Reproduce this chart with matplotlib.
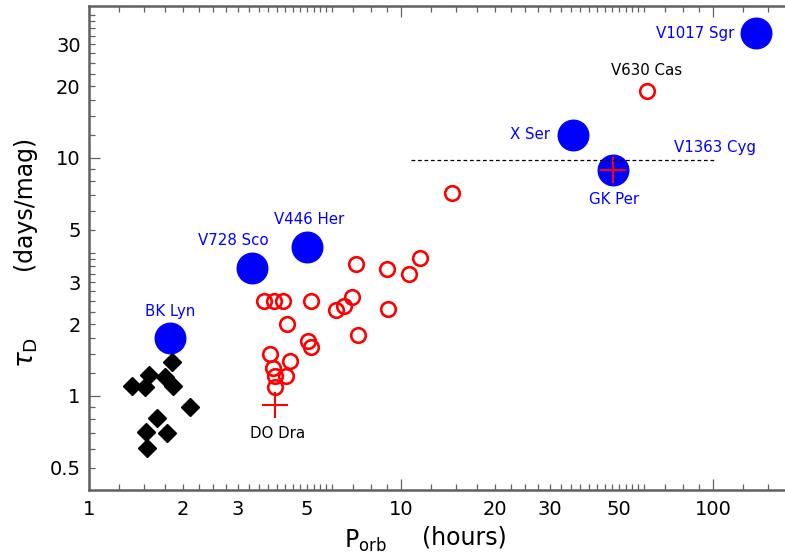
import numpy as np
import matplotlib
matplotlib.use("Agg")
import matplotlib.pyplot as plt
from matplotlib.ticker import FixedLocator, FuncFormatter, NullFormatter

# ---------------- data ----------------
# black diamonds (short-period systems)
diam_p = [1.84, 1.56, 1.37, 1.51, 1.75, 1.86, 2.10, 1.65, 1.52, 1.78, 1.53]
diam_t = [1.39, 1.225, 1.10, 1.094, 1.205, 1.10, 0.902, 0.806, 0.708, 0.701, 0.603]

# red open circles
circ_p = [7.17, 9.0, 11.5, 10.6, 3.65, 3.93, 4.18, 5.15, 6.19, 6.58, 6.98, 9.10,
          4.32, 5.05, 5.15, 7.30, 3.80, 4.41, 3.90, 4.27, 3.95, 3.95, 14.6, 61.3]
circ_t = [3.59, 3.41, 3.81, 3.25, 2.51, 2.51, 2.51, 2.51, 2.30, 2.39, 2.61, 2.31,
          2.01, 1.71, 1.60, 1.80, 1.50, 1.40, 1.31, 1.21, 1.21, 1.09, 7.11, 19.2]

# blue filled circles (named novae)
blue_names = ["V1017 Sgr", "X Ser", "GK Per", "V446 Her", "V728 Sco", "BK Lyn"]
blue_p = [137.0, 35.5, 47.7, 4.99, 3.34, 1.82]
blue_t = [33.5, 12.5, 8.9, 4.24, 3.44, 1.76]

# red crosses
cross_names = ["DO Dra", "GK Per"]
cross_p = [3.95, 47.7]
cross_t = [0.917, 8.9]

# dashed range (V1363 Cyg)
cyg_p = [10.8, 101.0]
cyg_t = [9.8, 9.8]

# labels: text, x, y, colour, ha
label_text = ["V1017 Sgr", "V630 Cas", "X Ser", "V1363 Cyg", "GK Per",
              "V446 Her", "V728 Sco", "BK Lyn", "DO Dra"]
label_x = [117.0, 61.3, 25.9, 101.5, 48.3, 5.07, 2.90, 1.82, 4.02]
label_y = [33.5, 23.4, 12.5, 11.1, 6.66, 5.49, 4.48, 2.26, 0.697]
label_col = ["blue", "black", "blue", "blue", "blue", "blue", "blue", "blue", "black"]
label_ha = ["right", "center", "center", "center", "center", "center", "center", "center", "center"]

x_labels = [1, 2, 3, 5, 10, 20, 30, 50, 100]
y_labels = [0.5, 1, 2, 3, 5, 10, 20, 30]

# ---------------- figure ----------------
fig = plt.figure(figsize=(7.85, 5.59), dpi=100)
ax = fig.add_axes([89/785, 69/559, 696/785, 484/559])
ax.set_xscale("log")
ax.set_yscale("log")
ax.set_xlim(1, 170.1)
ax.set_ylim(0.4027, 43.5)

ax.plot(diam_p, diam_t, linestyle="none", marker="D", ms=9.5,
        color="black", zorder=3)
ax.plot(circ_p, circ_t, linestyle="none", marker="o", ms=10.5,
        mfc="none", mec="red", mew=1.9, zorder=3)
ax.plot(blue_p, blue_t, linestyle="none", marker="o", ms=22,
        color="blue", mec="blue", zorder=4)
ax.plot(cross_p, cross_t, linestyle="none", marker="+", ms=19,
        mew=1.5, color="red", zorder=5)
ax.plot(cyg_p, cyg_t, linestyle=(0, (3, 2.2)), color="black", lw=0.9, zorder=6)

for t, x, y, c, ha in zip(label_text, label_x, label_y, label_col, label_ha):
    ax.text(x, y, t, color=c, ha=ha, va="center", fontsize=10.8, zorder=7)

# ---------------- ticks ----------------
frac = [1.25, 1.5, 1.75, 2, 2.25, 2.5, 2.75, 3, 3.25, 3.5, 3.75, 4,
        4.25, 4.5, 4.75, 5, 5.25, 5.5, 5.75, 6, 7, 8, 9]
xminor = [m * d for d in [1, 10, 100] for m in frac]
yfrac = [1.25, 1.5, 1.75, 2, 2.25, 2.5, 2.75, 3, 3.25, 3.5, 3.75, 4, 5, 6, 7, 8, 9]
yminor = [m * d for d in [0.1, 1, 10] for m in yfrac]

ax.xaxis.set_major_locator(FixedLocator([1, 10, 100]))
ax.xaxis.set_minor_locator(FixedLocator(xminor))
ax.yaxis.set_major_locator(FixedLocator([1, 10]))
ax.yaxis.set_minor_locator(FixedLocator(yminor))

def fmt_factory(allowed):
    def f(v, pos):
        for a in allowed:
            if abs(v - a) / a < 1e-6:
                return ("%g" % a)
        return ""
    return FuncFormatter(f)

ax.xaxis.set_major_formatter(fmt_factory(x_labels))
ax.xaxis.set_minor_formatter(fmt_factory(x_labels))
ax.yaxis.set_major_formatter(fmt_factory(y_labels))
ax.yaxis.set_minor_formatter(fmt_factory(y_labels))

spine_col = "#606060"
ax.tick_params(which="both", direction="in", top=True, right=False,
               color=spine_col, labelsize=14, width=0.9)
ax.tick_params(which="major", length=8)
ax.tick_params(which="minor", length=4.5)
ax.tick_params(axis="x", which="both", pad=7)
ax.tick_params(axis="y", which="both", pad=6)

for s in ["left", "bottom", "top"]:
    ax.spines[s].set_color(spine_col)
    ax.spines[s].set_linewidth(1.8)
ax.spines["right"].set_visible(False)

# ---------------- axis labels ----------------
fig.text(365/785, 1 - 541/559, r"$\mathrm{P_{orb}}$", fontsize=17,
         ha="center", va="center")
fig.text(464/785, 1 - 538/559, "(hours)", fontsize=17, ha="center", va="center")
fig.text(27/785, 1 - 352/559, r"$\tau_{\mathrm{D}}$", fontsize=19,
         rotation=90, ha="center", va="center")
fig.text(24/785, 1 - 203/559, "(days/mag)", fontsize=17,
         rotation=90, ha="center", va="center")

fig.savefig("out.png", dpi=100)
